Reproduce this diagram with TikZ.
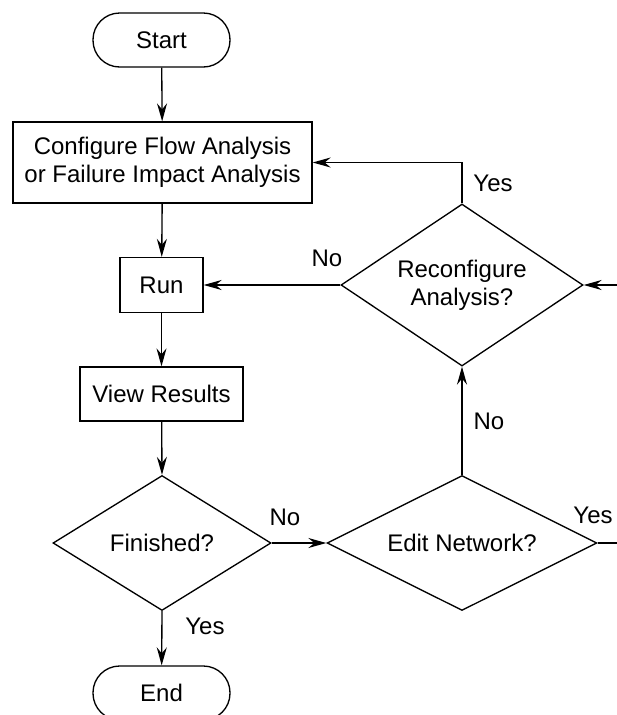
\documentclass[tikz,border=0pt]{standalone}
\usepackage{fontspec}
\setmainfont{Liberation Sans}
\usetikzlibrary{shapes.geometric,arrows.meta}

\begin{document}
\begin{tikzpicture}[x=.75pt,y=-.75pt,line width=1pt,
  font=\fontsize{18}{21}\selectfont,
  term/.style={draw,rectangle,rounded corners=20pt,minimum width=102.75pt,minimum height=40.5pt,inner sep=0pt},
  proc/.style={draw,rectangle,inner sep=0pt,align=center},
  dec/.style={draw,diamond,inner sep=0pt,align=center},
  flow/.style={-{Stealth[length=13.5pt,width=7.5pt,inset=4.5pt]}}]
\useasboundingbox (0,0) rectangle (617,715);
\clip (0,0) rectangle (617,715);

\node[term] (start) at (161.5,40) {Start};
\node[proc,minimum width=224.25pt,minimum height=60.75pt] (config) at (162.5,162.5)
  {Configure Flow Analysis\\or Failure Impact Analysis};
\node[proc,minimum width=62.25pt,minimum height=41.25pt] (run) at (161.5,285) {Run};
\node[proc,minimum width=122.25pt,minimum height=40.5pt] (view) at (161.5,394) {View Results};
\node[dec,aspect=1.6,minimum width=163.5pt,minimum height=101.25pt] (done) at (162,543) {Finished?};
\node[term] (end) at (161.5,693) {End};
\node[dec,aspect=2,minimum width=202.5pt,minimum height=101.25pt] (edit) at (462,543) {Edit Network?};
\node[dec,aspect=1.5,minimum width=181.5pt,minimum height=121.5pt] (reconf) at (462,285)
  {Reconfigure\\Analysis?};

% off the right edge
\coordinate (loopR) at (650,543);
\coordinate (loopT) at (650,285);

\draw[flow] (start) -- (config);
\draw[flow] (config) -- (run);
\draw[flow] (run) -- (view);
\draw[flow] (view) -- (done.north);
\draw[flow] (done.south) -- (end);
\draw[flow] (done.east) -- (edit.west);
\draw[flow] (edit.north) -- (reconf.south);
\draw[flow] (reconf.west) -- (run.east);
\draw[flow] (reconf.north) |- (config.east);
\draw[flow] (edit.east) -- (loopR) -- (loopT) -- (reconf.east);

\node (noA) at (327,258) {No};
\node (yesA) at (493,183) {Yes};
\node (noB) at (489,421) {No};
\node (yesB) at (593,515) {Yes};
\node (noC) at (285,517) {No};
\node (yesC) at (205,626) {Yes};

\end{tikzpicture}
\end{document}
